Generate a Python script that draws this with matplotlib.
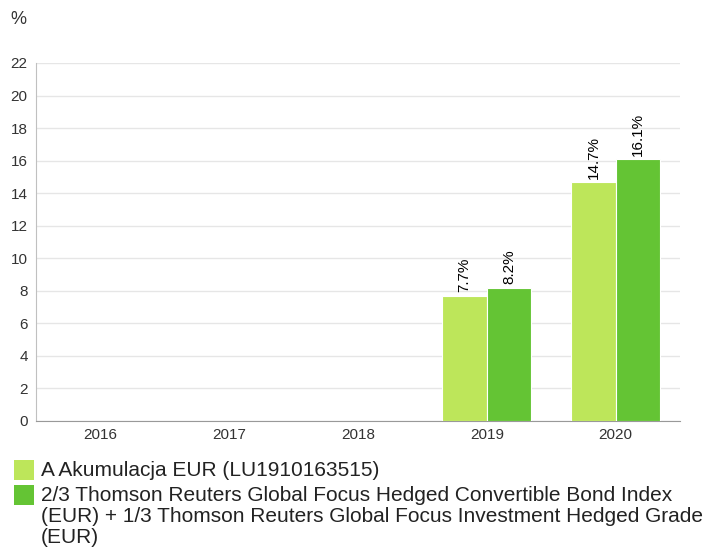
import numpy as np
import matplotlib.pyplot as plt
from matplotlib.patches import Rectangle

plt.rcParams['font.family'] = ['Liberation Sans', 'DejaVu Sans']

years = ['2016', '2017', '2018', '2019', '2020']
fund = [np.nan, np.nan, np.nan, 7.7, 14.7]
index = [np.nan, np.nan, np.nan, 8.2, 16.1]
series_names = [
    'A Akumulacja EUR (LU1910163515)',
    '2/3 Thomson Reuters Global Focus Hedged Convertible Bond Index\n'
    '(EUR) + 1/3 Thomson Reuters Global Focus Investment Hedged Grade\n'
    '(EUR)',
]
colors = ['#bde65a', '#64c434']
W, H = 719, 548

fig = plt.figure(figsize=(W / 100, H / 100), dpi=100)
ax = fig.add_axes([36 / W, 1 - 421 / H, 644 / W, 358 / H])

x = np.arange(len(years))
bw = 0.345
for vals, off, col in [(fund, -bw / 2, colors[0]), (index, bw / 2, colors[1])]:
    bars = ax.bar(x + off, vals, width=bw, color=col, edgecolor='white', linewidth=0.8, zorder=3)
    for b, v in zip(bars, vals):
        if np.isnan(v):
            continue
        ax.text(b.get_x() + b.get_width() / 2, v + 0.2, f'{v:.1f}%', rotation=90,
                ha='center', va='bottom', fontsize=11, color='black')

ax.set_xlim(-0.5, len(years) - 0.5)
ax.set_ylim(0, 22)
ax.set_yticks(range(0, 23, 2))
ax.set_xticks(x)
ax.set_xticklabels(years)
ax.tick_params(axis='both', length=0, labelsize=11, colors='#333333')
ax.tick_params(axis='y', pad=6)
ax.tick_params(axis='x', pad=5)
ax.grid(axis='y', color='#e6e6e6', linewidth=1, zorder=0)
for s in ['top', 'right']:
    ax.spines[s].set_visible(False)
ax.spines['left'].set_color('#c0c0c0')
ax.spines['bottom'].set_color('#999999')

fig.text(10 / W, 1 - 19 / H, '%', fontsize=13, color='#333333', va='center', ha='left')

# legend
for i, (name, col) in enumerate(zip(series_names, colors)):
    top = 460 + 25 * i
    fig.add_artist(Rectangle((14 / W, 1 - (top + 20) / H), 20 / W, 20 / H,
                             transform=fig.transFigure, color=col, lw=0))
    fig.text(41 / W, 1 - (top + 1) / H, name, fontsize=15, color='#222222',
             va='top', ha='left', linespacing=1.12)

fig.savefig('out.png', dpi=100)
